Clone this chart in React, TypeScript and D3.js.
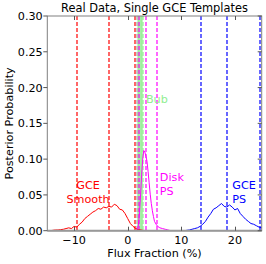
import { useEffect, useRef } from "react";
import * as d3 from "d3";

// posterior histograms (flux fraction %, probability)
const smoothX = [-15, -14.5, -14, -13.5, -13, -12.5, -12, -11.5, -11, -10.5, -10, -9.5, -9, -8.5, -8, -7.5, -7, -6.5, -6, -5.5, -5, -4.5, -4, -3.5, -3, -2.5, -2, -1.5, -1, -0.5, 0, 0.5, 1, 1.5, 2, 2.5, 3];
const smoothY = [0, 0, 0.0005, 0.001, 0.001, 0.0015, 0.002, 0.003, 0.004, 0.003, 0.006, 0.005, 0.009, 0.012, 0.017, 0.02, 0.023, 0.026, 0.028, 0.031, 0.03, 0.033, 0.032, 0.034, 0.033, 0.037, 0.035, 0.03, 0.029, 0.024, 0.017, 0.01, 0.006, 0.003, 0.0015, 0.001, 0];

const diskX = [1.5, 1.8, 2.0, 2.2, 2.4, 2.6, 2.8, 3.0, 3.2, 3.4, 3.6, 3.8, 4.0, 4.2, 4.4, 4.6, 4.8, 5.0, 5.3, 5.6, 6.0, 6.5, 7.0, 7.5, 8.0];
const diskY = [0, 0.002, 0.008, 0.025, 0.05, 0.078, 0.1, 0.112, 0.11, 0.104, 0.097, 0.083, 0.067, 0.051, 0.038, 0.028, 0.02, 0.013, 0.009, 0.006, 0.004, 0.003, 0.002, 0.001, 0];

const psX = [10, 10.5, 11, 11.5, 12, 12.5, 13, 13.5, 14, 14.5, 15, 15.5, 16, 16.5, 17, 17.5, 18, 18.5, 19, 19.5, 20, 20.5, 21, 21.5, 22, 22.5, 23, 23.5, 24, 24.5, 25];
const psY = [0, 0, 0.0005, 0.001, 0.002, 0.003, 0.004, 0.006, 0.009, 0.013, 0.019, 0.024, 0.03, 0.032, 0.035, 0.038, 0.034, 0.033, 0.036, 0.033, 0.029, 0.031, 0.024, 0.02, 0.016, 0.013, 0.01, 0.009, 0.007, 0.005, 0.004];

const bubX = [1.9, 1.95, 2.3, 2.65, 2.7];
const bubY = [0, 0.6, 0.6, 0.6, 0];

// quantile lines
const smoothQ = [-9.5, -3.4, 1.35];
const bubQ = [1.8, 2.2, 2.9];
const diskQ = [2.1, 3.4, 5.55];
const psQ = [13.6, 18.5, 24.6];

const xTicks = [-10, 0, 10, 20];
const yTicks = [0, 0.05, 0.1, 0.15, 0.2, 0.25, 0.3];

const RED = "#ff0000";
const MAG = "#ff00ff";
const BLUE = "#0000ff";
const GREEN = "#90ee90";

export default function App() {
  const ref = useRef<SVGSVGElement>(null);

  useEffect(() => {
    if (!ref.current) return;
    const svg = d3.select(ref.current);
    svg.selectAll("*").remove();

    const width = 266;
    const height = 264;
    const margin = { top: 16, right: 4.3, bottom: 33.3, left: 47.3 };
    const w = width - margin.left - margin.right;
    const h = height - margin.top - margin.bottom;
    const font = "'DejaVu Sans', sans-serif";
    const fs = 11.2;

    svg.attr("width", width).attr("height", height);

    svg.append("defs").append("clipPath").attr("id", "plot")
      .append("rect").attr("width", w).attr("height", h);

    const g = svg.append("g").attr("transform", `translate(${margin.left},${margin.top})`);

    const x = d3.scaleLinear().domain([-15, 25]).range([0, w]);
    const y = d3.scaleLinear().domain([0, 0.3]).range([h, 0]);
    // land lines between pixels so they spread over two columns
    const sx = (v: number) => Math.round(x(v) + margin.left) - margin.left;

    const plot = g.append("g").attr("clip-path", "url(#plot)");

    // bubble posterior: narrow tall spike
    const bub = bubX.map((v, i) => [v, bubY[i]] as [number, number]);
    plot.append("path")
      .datum(bub)
      .attr("fill", GREEN)
      .attr("fill-opacity", 0.8)
      .attr("stroke", GREEN)
      .attr("d", d3.line().x((d) => x(d[0])).y((d) => y(d[1])));

    const dashed = (vals: number[], color: string) => {
      plot.selectAll(null)
        .data(vals)
        .enter()
        .append("line")
        .attr("x1", (d) => sx(d))
        .attr("x2", (d) => sx(d))
        .attr("y1", 0)
        .attr("y2", h)
        .attr("stroke", color)
        .attr("stroke-width", 1.2)
        .attr("stroke-dasharray", "4,2");
    };
    dashed(smoothQ, RED);
    dashed([bubQ[0]], "#aaaaaa");
    dashed(bubQ.slice(1), GREEN);
    dashed(diskQ, MAG);
    dashed(psQ, BLUE);

    const curve = (xs: number[], ys: number[], color: string) => {
      const pts = xs.map((v, i) => [v, ys[i]] as [number, number]);
      plot.append("path")
        .datum(pts)
        .attr("fill", "none")
        .attr("stroke", color)
        .attr("stroke-width", 1)
        .attr("d", d3.line().x((d) => x(d[0])).y((d) => y(d[1])));
    };
    curve(smoothX, smoothY, RED);
    curve(diskX, diskY, MAG);
    curve(psX, psY, BLUE);

    // frame
    g.append("rect")
      .attr("width", w)
      .attr("height", h)
      .attr("fill", "none")
      .attr("stroke", "#808080")
      .attr("stroke-width", 1);
    g.append("line")
      .attr("x1", 0).attr("x2", w)
      .attr("y1", y(0)).attr("y2", y(0))
      .attr("stroke", "#999")
      .attr("stroke-width", 2);

    // ticks
    xTicks.forEach((t) => {
      g.append("line").attr("x1", sx(t) + 0.5).attr("x2", sx(t) + 0.5).attr("y1", h).attr("y2", h - 4).attr("stroke", "#555");
      g.append("line").attr("x1", sx(t) + 0.5).attr("x2", sx(t) + 0.5).attr("y1", 0).attr("y2", 4).attr("stroke", "#555");
      g.append("text")
        .attr("x", x(t))
        .attr("y", h + 12.8)
        .attr("text-anchor", "middle")
        .attr("font-family", font)
        .attr("font-size", fs)
        .text(t < 0 ? `\u2212${Math.abs(t)}` : `${t}`);
    });
    yTicks.forEach((t) => {
      g.append("line").attr("x1", 0).attr("x2", -4).attr("y1", y(t)).attr("y2", y(t)).attr("stroke", "#555");
      g.append("line").attr("x1", w).attr("x2", w - 4).attr("y1", y(t)).attr("y2", y(t)).attr("stroke", "#555");
      g.append("text")
        .attr("x", -4.6)
        .attr("y", y(t))
        .attr("dy", "0.36em")
        .attr("text-anchor", "end")
        .attr("font-family", font)
        .attr("font-size", fs)
        .text(t.toFixed(2));
    });

    // labels
    const label = (lines: string[], xv: number, yv: number[], color: string, anchor: string) => {
      lines.forEach((s, i) => {
        g.append("text")
          .attr("x", x(xv))
          .attr("y", y(yv[i]))
          .attr("text-anchor", anchor)
          .attr("fill", color)
          .attr("font-family", font)
          .attr("font-size", fs)
          .text(s);
      });
    };
    label(["GCE", "Smooth"], -7.4, [0.058, 0.039], RED, "middle");
    label(["Disk", "PS"], 6.0, [0.069, 0.0495], MAG, "start");
    label(["GCE", "PS"], 19.5, [0.058, 0.039], BLUE, "start");
    label(["Bub"], 3.4, [0.178], GREEN, "start");

    svg.append("text")
      .attr("x", margin.left + w / 2)
      .attr("y", 12.3)
      .attr("text-anchor", "middle")
      .attr("font-family", font)
      .attr("font-size", 11.4)
      .text("Real Data, Single GCE Templates");

    svg.append("text")
      .attr("x", margin.left + w / 2)
      .attr("y", 256.5)
      .attr("text-anchor", "middle")
      .attr("font-family", font)
      .attr("font-size", fs)
      .text("Flux Fraction (%)");

    svg.append("text")
      .attr("transform", `translate(13,${margin.top + h / 2}) rotate(-90)`)
      .attr("text-anchor", "middle")
      .attr("font-family", font)
      .attr("font-size", fs)
      .text("Posterior Probability");
  }, []);

  return <svg ref={ref} style={{ position: "absolute", left: 0, top: 0 }} />;
}
